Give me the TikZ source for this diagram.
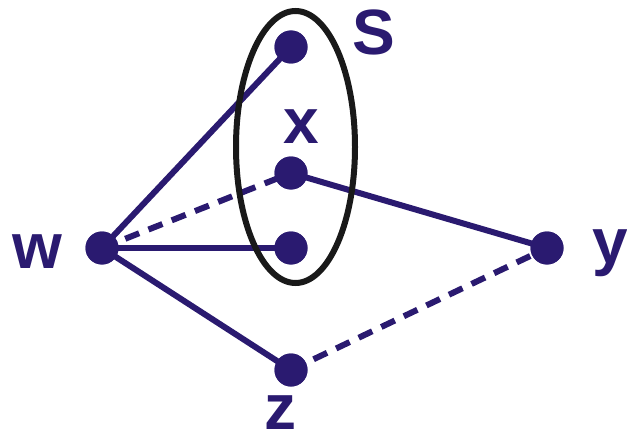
\documentclass[tikz,border=0pt]{standalone}
\usepackage{fontspec}
\setmainfont{Liberation Sans}
\definecolor{navy}{RGB}{42,26,112}
\begin{document}
\begin{tikzpicture}[x=1pt,y=-1pt,
  vert/.style={circle,fill=navy,inner sep=0pt,minimum size=33pt},
  edge/.style={draw=navy,line width=6pt},
  dashedge/.style={edge,dash pattern=on 15pt off 10pt},
  lab/.style={text=navy,font=\fontsize{64}{64}\selectfont\bfseries,anchor=base,inner sep=0pt}]
\useasboundingbox (0,0) rectangle (627,436);
\node[vert] (w) at (102,248) {};
\node[vert] (s) at (291,47) {};
\node[vert] (x) at (291,173) {};
\node[vert] (m) at (291,248) {};
\node[vert] (z) at (291,370) {};
\node[vert] (y) at (547,248) {};
\path[edge] (w.center) -- (s.center);
\path[dashedge] (w.center) -- (x.center);
\path[edge] (w.center) -- (m.center);
\path[edge] (w.center) -- (z.center);
\path[edge] (x.center) -- (y.center);
\path[dashedge] (z.center) -- (y.center);
\draw[line width=6pt,black!90] (295.5,147) ellipse [x radius=59.5, y radius=136];
\node[vert] at (w) {};
\node[vert] at (s) {};
\node[vert] at (x) {};
\node[vert] at (m) {};
\node[vert] at (z) {};
\node[vert] at (y) {};
\node[lab] (lw) at (37,268) {w};
\node[lab] (lx) at (301,143) {x};
\node[lab] (ls) at (374,55) {S};
\node[lab] (lz) at (280,429) {z};
\node[lab] (ly) at (610,263) {y};
\end{tikzpicture}
\end{document}
